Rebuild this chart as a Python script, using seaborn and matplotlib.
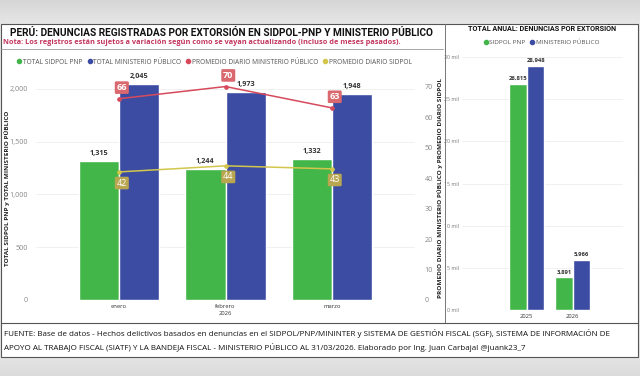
import matplotlib
matplotlib.use('Agg')
import matplotlib.pyplot as plt
from matplotlib import font_manager
from matplotlib.lines import Line2D
from matplotlib.patches import Rectangle
import seaborn as sns
import pandas as pd
import numpy as np

# datos mensuales 2026
meses = ['enero', 'febrero', 'marzo']
total_sidpol = [1315, 1244, 1332]
total_mp = [2045, 1973, 1948]
prom_mp = [66, 70, 63]
prom_sidpol = [42, 44, 43]

# totales anuales
anios = ['2025', '2026']
anual_sidpol = [26815, 3891]
anual_mp = [28948, 5966]

VERDE = '#43b649'
AZUL = '#3c4ca3'
ROJO = '#d64a5c'
ROJO_ETQ = '#d9686f'
AMARILLO = '#d3c64c'
AMARILLO_ETQ = '#b9a650'

sns.set_theme(style='white')
nombres = {f.name for f in font_manager.fontManager.ttflist}
FUENTE = 'Open Sans' if 'Open Sans' in nombres else 'DejaVu Sans'
ANGOSTA = 'Liberation Sans Narrow' if 'Liberation Sans Narrow' in nombres else 'Roboto'
plt.rcParams['font.family'] = [FUENTE, 'DejaVu Sans']

W, H = 640, 376


def fx(px):
    return px / W


def fy(py):
    return 1 - py / H


fig = plt.figure(figsize=(6.4, 3.76), dpi=100)

# fondo (foto de pantalla): degradado gris + paneles blancos
bg = fig.add_axes([0, 0, 1, 1], zorder=-10)
bg.set_xlim(0, W)
bg.set_ylim(H, 0)
bg.axis('off')
filas = np.interp(np.arange(H), [0, 22, 200, 355, 375], [0.84, 0.90, 0.93, 0.90, 0.86])
grad = np.repeat(filas[:, None], W, axis=1)
bg.imshow(np.dstack([grad, grad, grad]), extent=[0, W, H, 0], aspect='auto')
bg.add_patch(Rectangle((1, 24), 637, 333, facecolor='white', edgecolor='#555555', lw=0.8))
bg.plot([445, 445], [24, 323], color='#777777', lw=0.7)
bg.plot([1, 638], [323, 323], color='#555555', lw=0.8)
bg.plot([1, 443], [49, 49], color='#999999', lw=0.6)

# textos de cabecera
fig.text(fx(10), fy(33), 'PERÚ: DENUNCIAS REGISTRADAS POR EXTORSIÓN EN SIDPOL-PNP Y MINISTERIO PÚBLICO',
         fontsize=7.3, fontweight='bold', family=ANGOSTA, color='#111111', va='center')
fig.text(fx(3), fy(43), 'Nota: Los registros están sujetos a variación según como se vayan actualizando (incluso de meses pasados).',
         fontsize=5.35, fontweight='bold', color='#c23660', va='center')

# ---- panel izquierdo: barras mensuales + promedios diarios ----
ax = fig.add_axes([fx(36), fy(300), fx(415) - fx(36), fy(78) - fy(300)])
df_mes = pd.DataFrame({
    'mes': meses * 2,
    'valor': total_sidpol + total_mp,
    'serie': ['TOTAL SIDPOL PNP'] * 3 + ['TOTAL MINISTERIO PÚBLICO'] * 3,
})
sns.barplot(data=df_mes, x='mes', y='valor', hue='serie', palette=[VERDE, AZUL],
            width=0.76, saturation=1, gap=0, ax=ax, legend=False, zorder=2)
for cont in ax.containers:
    ax.bar_label(cont, fmt='{:,.0f}', padding=3, fontsize=5.2, fontweight='bold', color='#333333')
ax.set_xlim(-0.78, 2.78)
ax.set_ylim(0, 2104)
ax.set_yticks([0, 500, 1000, 1500, 2000])
ax.set_yticklabels(['0', '500', '1,000', '1,500', '2,000'])
ax.yaxis.grid(True, color='#eeeeee', lw=0.6)
ax.set_axisbelow(True)
for s in ax.spines.values():
    s.set_visible(False)
ax.tick_params(axis='y', labelsize=5.2, labelcolor='#888888', length=0, pad=6)
ax.tick_params(axis='x', labelsize=4.2, labelcolor='#333333', length=0, pad=3)
ax.set_xlabel('2026', fontsize=4.2, color='#333333', labelpad=1)
ax.set_ylabel('')
fig.text(fx(7), fy(188), 'TOTAL SIDPOL PNP y TOTAL MINISTERIO PÚBLICO', rotation=90,
         fontsize=4.6, fontweight='bold', color='#222222', ha='center', va='center')

ax2 = ax.twinx()
df_prom = pd.DataFrame({
    'mes': meses * 2,
    'valor': prom_mp + prom_sidpol,
    'serie': ['PROMEDIO DIARIO MINISTERIO PÚBLICO'] * 3 + ['PROMEDIO DIARIO SIDPOL'] * 3,
})
sns.pointplot(data=df_prom, x='mes', y='valor', hue='serie', palette=[ROJO, AMARILLO],
              markers='o', markersize=2.5, linewidth=1.1, ax=ax2, legend=False)
ax2.set_xlim(-0.78, 2.78)
ax2.set_ylim(0, 72.8)
ax2.set_yticks(range(0, 71, 10))
ax2.tick_params(axis='y', labelsize=5.2, labelcolor='#888888', length=0, pad=7)
ax2.set_ylabel('')
ax2.set_xlabel('')
for s in ax2.spines.values():
    s.set_visible(False)
fig.text(fx(440), fy(188), 'PROMEDIO DIARIO MINISTERIO PÚBLICO y PROMEDIO DIARIO SIDPOL', rotation=90,
         fontsize=4.6, fontweight='bold', color='#222222', ha='center', va='center')

for i, v in enumerate(prom_mp):
    ax2.annotate(str(v), (i, v), xytext=(2, 8), textcoords='offset points', ha='center', va='center',
                 fontsize=6.5, color='white', fontweight='bold',
                 bbox=dict(boxstyle='round,pad=0.2,rounding_size=0.15', fc=ROJO_ETQ, ec='none'))
for i, v in enumerate(prom_sidpol):
    ax2.annotate(str(v), (i, v), xytext=(2, -8), textcoords='offset points', ha='center', va='center',
                 fontsize=6.5, color='white',
                 bbox=dict(boxstyle='round,pad=0.2,rounding_size=0.15', fc=AMARILLO_ETQ, ec='none'))


def punto(c):
    return Line2D([], [], marker='o', ls='', color=c, markersize=3)


fig.legend([punto(VERDE), punto(AZUL), punto(ROJO), punto(AMARILLO)],
           ['TOTAL SIDPOL PNP', 'TOTAL MINISTERIO PÚBLICO', 'PROMEDIO DIARIO MINISTERIO PÚBLICO', 'PROMEDIO DIARIO SIDPOL'],
           loc='center', bbox_to_anchor=(fx(214), fy(62)), ncol=4, frameon=False, fontsize=4.8,
           labelcolor='#555555', handletextpad=0.0, columnspacing=0.6, handlelength=1.0, borderaxespad=0)

# ---- panel derecho: totales anuales ----
fig.text(fx(542), fy(29), 'TOTAL ANUAL: DENUNCIAS POR EXTORSIÓN', fontsize=5.2, fontweight='bold',
         family=ANGOSTA, color='#111111', ha='center', va='center')
fig.legend([punto(VERDE), punto(AZUL)], ['SIDPOL PNP', 'MINISTERIO PÚBLICO'],
           loc='center', bbox_to_anchor=(fx(541), fy(42)), ncol=2, frameon=False, fontsize=4.6,
           labelcolor='#555555', handletextpad=0.0, columnspacing=0.6, handlelength=1.0, borderaxespad=0)

ax3 = fig.add_axes([fx(462), fy(310), fx(623) - fx(462), fy(57) - fy(310)])
df_anio = pd.DataFrame({
    'anio': anios * 2,
    'valor': anual_sidpol + anual_mp,
    'serie': ['SIDPOL PNP'] * 2 + ['MINISTERIO PÚBLICO'] * 2,
})
sns.barplot(data=df_anio, x='anio', y='valor', hue='serie', palette=[VERDE, AZUL],
            width=0.76, saturation=1, gap=0, ax=ax3, legend=False, zorder=2)
for cont in ax3.containers:
    ax3.bar_label(cont, fmt='{:,.0f}', padding=2, fontsize=4.2, fontweight='bold', color='#333333')
ax3.set_xlim(-1.41, 2.09)
ax3.set_ylim(0, 30000)
ticks = list(range(0, 30001, 5000))
ax3.set_yticks(ticks)
ax3.set_yticklabels([f'{t // 1000} mil' for t in ticks])
ax3.yaxis.grid(True, color='#eeeeee', lw=0.6)
ax3.set_axisbelow(True)
for s in ax3.spines.values():
    s.set_visible(False)
ax3.tick_params(axis='y', labelsize=3.8, labelcolor='#777777', length=0, pad=2)
ax3.tick_params(axis='x', labelsize=4.2, labelcolor='#333333', length=0, pad=3)
ax3.set_xlabel('')
ax3.set_ylabel('')

# ---- pie de fuente ----
fig.text(fx(4), fy(333), 'FUENTE: Base de datos - Hechos delictivos basados en denuncias en el SIDPOL/PNP/MININTER y SISTEMA DE GESTIÓN FISCAL (SGF), SISTEMA DE INFORMACIÓN DE',
         fontsize=5.8, color='#111111', va='center')
fig.text(fx(4), fy(347), 'APOYO AL TRABAJO FISCAL (SIATF) Y LA BANDEJA FISCAL - MINISTERIO PÚBLICO AL 31/03/2026. Elaborado por Ing. Juan Carbajal @juank23_7',
         fontsize=5.8, color='#111111', va='center')

fig.savefig('out.png', dpi=100)
